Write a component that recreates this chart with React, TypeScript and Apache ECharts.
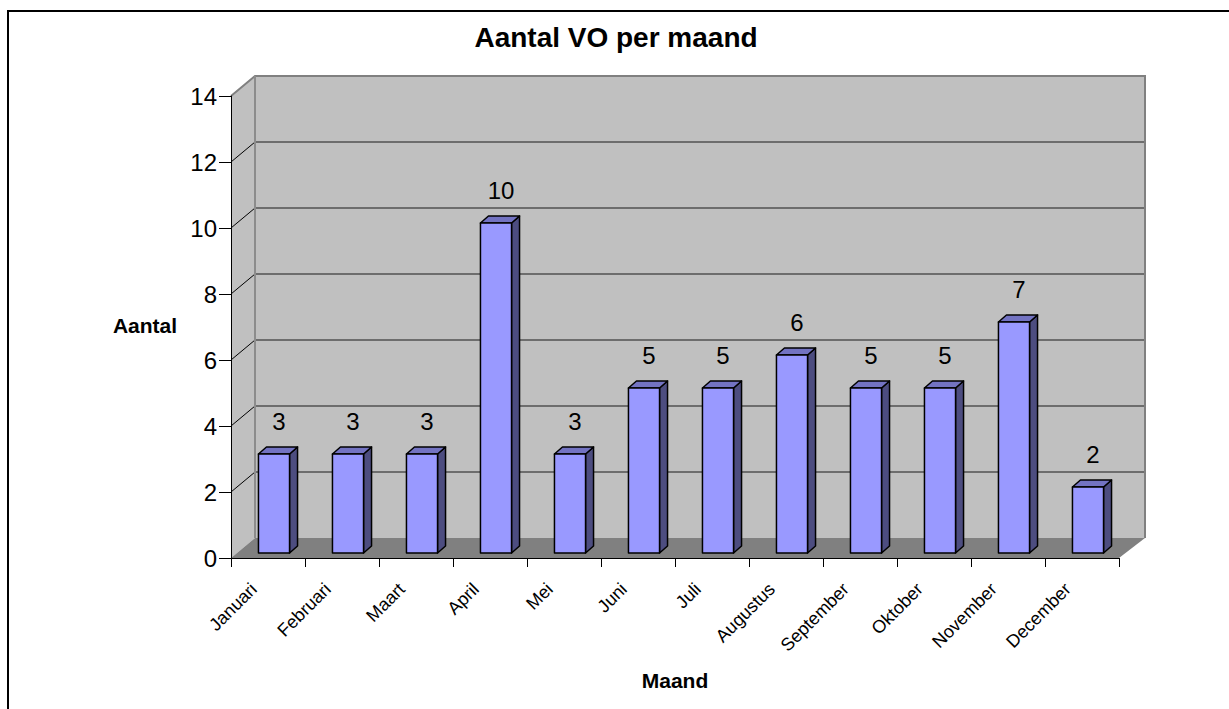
import React, { useEffect, useRef } from "react";
import * as echarts from "echarts";

const months = [
  "Januari", "Februari", "Maart", "April", "Mei", "Juni",
  "Juli", "Augustus", "September", "Oktober", "November", "December",
];
const counts = [3, 3, 3, 10, 3, 5, 5, 6, 5, 5, 7, 2];
const yTicks = [0, 2, 4, 6, 8, 10, 12, 14];
const titleText = "Aantal VO per maand";
const yName = "Aantal";
const xName = "Maand";

const FONT = "Arial, 'Liberation Sans', sans-serif";

export default function App() {
  const ref = useRef<HTMLDivElement>(null);

  useEffect(() => {
    if (!ref.current) return;
    const chart = echarts.init(ref.current, undefined, { renderer: "svg" });

    const dxL = 24, dxR = 26, dyW = -20;

    const wallItem = (params: any, api: any) => {
      const cs = params.coordSys;
      const x0 = cs.x, x1 = cs.x + cs.width;
      const yT = cs.y, yB = cs.y + cs.height;
      const children: any[] = [];
      children.push({
        type: "polygon",
        shape: { points: [[x0 + dxL, yT + dyW], [x1 + dxR, yT + dyW], [x1 + dxR, yB + dyW], [x0 + dxL, yB + dyW]] },
        style: { fill: "#c0c0c0", stroke: "none" },
      });
      children.push({
        type: "polygon",
        shape: { points: [[x0, yT], [x0 + dxL, yT + dyW], [x0 + dxL, yB + dyW], [x0, yB]] },
        style: { fill: "#c0c0c0", stroke: "none" },
      });
      yTicks.forEach((v) => {
        if (v === yTicks[0] || v === yTicks[yTicks.length - 1]) return;
        const y = api.coord([0, v])[1];
        children.push({
          type: "line",
          shape: { x1: x0 + dxL, y1: y + dyW, x2: x1 + dxR, y2: y + dyW },
          style: { stroke: "#1a1a1a", lineWidth: 1 },
        });
        children.push({
          type: "line",
          shape: { x1: x0, y1: y, x2: x0 + dxL, y2: y + dyW },
          style: { stroke: "#000", lineWidth: 1 },
        });
      });
      // edges
      children.push({
        type: "polyline",
        shape: { points: [[x0, yT], [x0 + dxL, yT + dyW], [x1 + dxR, yT + dyW], [x1 + dxR, yB + dyW]] },
        style: { stroke: "#808080", lineWidth: 2, fill: "none" },
      });
      children.push({
        type: "line",
        shape: { x1: x0 + dxL, y1: yT + dyW, x2: x0 + dxL, y2: yB + dyW },
        style: { stroke: "#8c8c8c", lineWidth: 2 },
      });
      children.push({
        type: "polygon",
        shape: { points: [[x0, yB], [x1, yB], [x1 + dxR, yB + dyW], [x0 + dxL, yB + dyW]] },
        style: { fill: "#808080", stroke: "none" },
      });
      return { type: "group", children };
    };

    const fdx = 6, fdy = -5, ddx = 8, ddy = -7;

    const barItem = (params: any, api: any) => {
      const i = api.value(0);
      const v = api.value(1);
      const top = api.coord([i, v]);
      const base = api.coord([i, 0]);
      const band = api.size([1, 0])[0];
      const w = band * 0.42;
      const fx = top[0] + fdx - w / 2;
      const yT = top[1] + fdy;
      const yB = base[1] + fdy;
      const stroke = { stroke: "#000", lineWidth: 1.5, lineJoin: "round" };
      return {
        type: "group",
        children: [
          {
            type: "polygon",
            shape: { points: [[fx + w, yT], [fx + w + ddx, yT + ddy], [fx + w + ddx, yB + ddy], [fx + w, yB]] },
            style: { fill: "#4d4d80", ...stroke },
          },
          {
            type: "polygon",
            shape: { points: [[fx, yT], [fx + w, yT], [fx + w + ddx, yT + ddy], [fx + ddx, yT + ddy]] },
            style: { fill: "#7373c2", ...stroke },
          },
          {
            type: "rect",
            shape: { x: fx, y: yT, width: w, height: yB - yT },
            style: { fill: "#9999ff", ...stroke },
          },
          {
            type: "text",
            style: {
              text: String(v),
              x: fx + w / 2 + 5,
              y: yT - 33,
              align: "center",
              verticalAlign: "middle",
              fill: "#000",
              font: `24px ${FONT}`,
            },
          },
        ],
      };
    };

    chart.setOption({
      animation: false,
      backgroundColor: "#ffffff",
      textStyle: { fontFamily: FONT },
      grid: { left: 231, top: 96, width: 888, height: 462, containLabel: false, outerBoundsMode: "none" },
      xAxis: {
        type: "category",
        data: months,
        z: 5,
        axisLine: { show: true, lineStyle: { color: "#000", width: 1 } },
        axisTick: { show: true, length: 9, lineStyle: { color: "#000", width: 1 } },
        axisLabel: {
          rotate: 45,
          margin: 14,
          padding: [0, 20, 0, 0],
          fontSize: 18,
          color: "#000",
          fontFamily: FONT,
          interval: 0,
        },
        splitLine: { show: false },
      },
      yAxis: {
        type: "value",
        min: 0,
        max: 14,
        interval: 2,
        z: 5,
        axisLine: { show: true, lineStyle: { color: "#000", width: 1 } },
        axisTick: { show: true, length: 12, lineStyle: { color: "#000", width: 1 } },
        axisLabel: { fontSize: 24, margin: 14, color: "#000", fontFamily: FONT },
        splitLine: { show: false },
      },
      series: [
        {
          type: "custom",
          z: 1,
          silent: true,
          data: [[0, 0]],
          renderItem: wallItem,
        },
        {
          type: "custom",
          z: 8,
          data: counts.map((v, i) => [i, v]),
          encode: { x: 0, y: 1 },
          renderItem: barItem,
        },
      ],
      graphic: [
        {
          type: "rect",
          shape: { x: 8, y: 11, width: 1400, height: 900 },
          style: { fill: "none", stroke: "#000", lineWidth: 2 },
          silent: true,
        },
        {
          type: "text",
          x: 616,
          y: 37,
          style: {
            text: titleText,
            align: "center",
            verticalAlign: "middle",
            font: `bold 28px ${FONT}`,
            fill: "#000",
          },
        },
        {
          type: "text",
          x: 145,
          y: 325,
          style: {
            text: yName,
            align: "center",
            verticalAlign: "middle",
            font: `bold 21px ${FONT}`,
            fill: "#000",
          },
        },
        {
          type: "text",
          x: 675,
          y: 680,
          style: {
            text: xName,
            align: "center",
            verticalAlign: "middle",
            font: `bold 21px ${FONT}`,
            fill: "#000",
          },
        },
      ],
    });

    return () => chart.dispose();
  }, []);

  return (
    <div
      ref={ref}
      style={{ position: "fixed", left: 0, top: 0, width: 1229, height: 709 }}
    />
  );
}
